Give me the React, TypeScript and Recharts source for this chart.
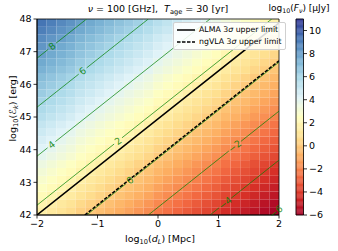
import React from 'react';
import { ComposedChart, XAxis, YAxis, Line, ReferenceArea, ReferenceDot, Legend } from 'recharts';

// axes
const distTicks = [-2, -1, 0, 1, 2];
const distMinorTicks = [-1.8, -1.6, -1.4, -1.2, -0.8, -0.6, -0.4, -0.2, 0.2, 0.4, 0.6, 0.8, 1.2, 1.4, 1.6, 1.8];
const energyTicks = [42, 43, 44, 45, 46, 47, 48];
const energyMinorTicks = [42.2, 42.4, 42.6, 42.8, 43.2, 43.4, 43.6, 43.8, 44.2, 44.4, 44.6, 44.8, 45.2, 45.4, 45.6, 45.8, 46.2, 46.4, 46.6, 46.8, 47.2, 47.4, 47.6, 47.8];
const cbarTicks = [-6, -4, -2, 0, 2, 4, 6, 8, 10];
const cbarMinorTicks = [-5.5, -5, -4.5, -3.5, -3, -2.5, -1.5, -1, -0.5, 0.5, 1, 1.5, 2.5, 3, 3.5, 4.5, 5, 5.5, 6.5, 7, 7.5, 8.5, 9, 9.5, 10.5];

// heatmap: log10 flux in the leftmost distance column, one value per energy row (bottom to top)
const fluxLeftColumn = [1.6, 1.9, 2.3, 2.6, 2.9, 3.2, 3.5, 3.9, 4.2, 4.5, 4.8, 5.1, 5.5, 5.8, 6.1, 6.4, 6.7, 7.0, 7.4, 7.7, 8.0, 8.3, 8.6, 9.0, 9.3];
// change of log10 flux for each distance column, relative to the leftmost one
const distanceDimming = [0, -0.3, -0.6, -0.9, -1.3, -1.6, -1.9, -2.2, -2.5, -2.8, -3.1, -3.4, -3.8, -4.1, -4.4, -4.7, -5.0, -5.3, -5.6, -6.0, -6.3, -6.6, -6.9, -7.2, -7.5];

// contours of log10 flux, straight segments [logd, logE]
const contourLevels = [8, 6, 4, 2, 0, -2, -4, -6];
const contourStart = [[-2, 46.8], [-2, 45.3], [-2, 43.8], [-2, 42.3], [-1.18, 42], [-0.16, 42], [0.86, 42], [1.88, 42]];
const contourEnd = [[-1.18, 48], [-0.16, 48], [0.86, 48], [1.88, 48], [2, 46.68], [2, 45.18], [2, 43.68], [2, 42.18]];
const contourLabelD = [-1.75, -1.245, -1.76, -0.66, -0.46, 1.27, 1.11, 1.95];

// detection limits
const almaD = [-2, 0, 2];
const almaE = [42, 44.94, 47.88];
const ngvlaD = [-1.21, 2];
const ngvlaE = [42, 46.72];

const legendEntries = [
    { name: 'ALMA', dash: undefined },
    { name: 'ngVLA', dash: '3.5 1.5' },
];

const RDYLBU = ['#a50026', '#d73027', '#f46d43', '#fdae61', '#fee090', '#ffffbf', '#e0f3f8', '#abd9e9', '#74add1', '#4575b4', '#313695'];
const V_MIN = -6;
const V_MAX = 11;

const hex = (h: string) => [1, 3, 5].map((i) => parseInt(h.slice(i, i + 2), 16));

function fluxColor(v: number) {
    const t = Math.min(1, Math.max(0, (v - V_MIN) / (V_MAX - V_MIN))) * (RDYLBU.length - 1);
    const i = Math.min(RDYLBU.length - 2, Math.floor(t));
    const f = t - i;
    const a = hex(RDYLBU[i]);
    const b = hex(RDYLBU[i + 1]);
    const c = a.map((x, k) => Math.round(x + (b[k] - x) * f));
    return `rgb(${c[0]},${c[1]},${c[2]})`;
}

const minus = (v: number) => (v < 0 ? '\u2212' + Math.abs(v) : String(v));

const cellW = 4 / distanceDimming.length;
const cellH = 6 / fluxLeftColumn.length;
const cells = fluxLeftColumn.flatMap((f0, row) =>
    distanceDimming.map((dim, col) => ({
        x1: -2 + col * cellW,
        x2: -2 + (col + 1) * cellW,
        y1: 42 + row * cellH,
        y2: 42 + (row + 1) * cellH,
        fill: fluxColor(f0 + dim),
    }))
);

// thin slices for the colour bar
const CBAR_STEPS = 170;
const cbarSlices = Array.from({ length: CBAR_STEPS }, (_, i) => {
    const lo = V_MIN + ((V_MAX - V_MIN) * i) / CBAR_STEPS;
    const hi = V_MIN + ((V_MAX - V_MIN) * (i + 1)) / CBAR_STEPS;
    return { lo, hi, fill: fluxColor((lo + hi) / 2) };
});
const cbarFrame = [{ u: 0, v: V_MIN }, { u: 1, v: V_MAX }];

const contours = contourLevels.map((level, k) => {
    const [d0, e0] = contourStart[k];
    const [d1, e1] = contourEnd[k];
    const at = (d: number) => e0 + ((e1 - e0) * (d - d0)) / (d1 - d0);
    const ld = contourLabelD[k];
    const gap = level < 0 ? 0.1 : 0.065;
    const pts: { d: number; E: number | null }[] = [{ d: d0, E: e0 }];
    if (ld - gap > d0) pts.push({ d: ld - gap, E: at(ld - gap) });
    pts.push({ d: ld, E: null });
    if (ld + gap < d1) pts.push({ d: ld + gap, E: at(ld + gap) });
    pts.push({ d: d1, E: e1 });
    return { level, pts, labelD: ld, labelE: at(ld) };
});

const almaPts = almaD.map((d, i) => ({ d, E: almaE[i] }));
const ngvlaPts = ngvlaD.map((d, i) => ({ d, E: ngvlaE[i] }));

const GREEN = '#008000';
const sub = { fontSize: '70%', position: 'relative' as const, top: '0.3em' };

const renderLegend = () => (
    <div style={{ background: 'rgba(255,255,255,0.85)', border: '1px solid #d0d0d0', borderRadius: 2, padding: '1px 4px 1px 3px', fontSize: 7.8, lineHeight: '12px', color: '#000' }}>
        {legendEntries.map((e) => (
            <div key={e.name} style={{ display: 'flex', alignItems: 'center', whiteSpace: 'nowrap' }}>
                <svg width={18} height={6} style={{ marginRight: 4 }}>
                    <line x1={0} y1={3} x2={18} y2={3} stroke="#000" strokeWidth={1.5} strokeDasharray={e.dash} />
                </svg>
                <span>{e.name} 3<i>σ</i> upper limit</span>
            </div>
        ))}
    </div>
);

export default function App() {
    return (
        <div style={{ position: 'absolute', left: 0, top: 0, width: 338, height: 251, background: '#fff', fontFamily: '"DejaVu Sans", sans-serif', color: '#000' }}>
            {/* colour bar */}
            <ComposedChart width={338} height={251} data={cbarFrame} margin={{ top: 19, right: 0, left: 296, bottom: 36 }} style={{ position: 'absolute', left: 0, top: 0 }}>
                <XAxis type="number" dataKey="u" domain={[0, 1]} allowDataOverflow hide />
                <YAxis yAxisId="minor" orientation="right" type="number" domain={[V_MIN, V_MAX]} allowDataOverflow ticks={cbarMinorTicks} interval={0} tick={false} tickSize={2} axisLine={false} tickLine={{ stroke: '#000', strokeWidth: 0.6 }} width={0} />
                <YAxis orientation="right" type="number" domain={[V_MIN, V_MAX]} allowDataOverflow ticks={cbarTicks} interval={0} tickFormatter={minus} tickSize={3.5} tickMargin={2} width={34.5} axisLine={false} tickLine={{ stroke: '#000', strokeWidth: 0.8 }} tick={{ fontSize: 9.5, fill: '#000', textAnchor: 'start' }} />
                {cbarSlices.map((s, i) => (
                    <ReferenceArea key={`cb-${i}`} x1={0} x2={1} y1={s.lo} y2={s.hi} fill={s.fill} fillOpacity={1} stroke={s.fill} strokeWidth={0.3} ifOverflow="visible" />
                ))}
                <ReferenceArea x1={0} x2={1} y1={V_MIN} y2={V_MAX} fill="none" fillOpacity={0} stroke="#000" strokeWidth={0.8} ifOverflow="visible" />
                <Line dataKey="v" stroke="none" dot={false} activeDot={false} legendType="none" isAnimationActive={false} />
            </ComposedChart>

            <ComposedChart width={338} height={251} margin={{ top: 19, right: 59, left: 0, bottom: 0 }} style={{ position: 'absolute', left: 0, top: 0 }}>
                <XAxis xAxisId="minor" type="number" dataKey="d" domain={[-2, 2]} allowDataOverflow ticks={distMinorTicks} interval={0} tick={false} tickSize={2} axisLine={false} tickLine={{ stroke: '#000', strokeWidth: 0.6 }} height={0} />
                <XAxis type="number" dataKey="d" domain={[-2, 2]} allowDataOverflow ticks={distTicks} interval={0} tickFormatter={minus} tickSize={3.5} tickMargin={2} height={36} axisLine={{ stroke: '#000', strokeWidth: 0.8 }} tickLine={{ stroke: '#000', strokeWidth: 0.8 }} tick={{ fontSize: 9.5, fill: '#000' }} />
                <YAxis yAxisId="minor" type="number" domain={[42, 48]} allowDataOverflow ticks={energyMinorTicks} interval={0} tick={false} tickSize={2} axisLine={false} tickLine={{ stroke: '#000', strokeWidth: 0.6 }} width={0} />
                <YAxis type="number" domain={[42, 48]} allowDataOverflow ticks={energyTicks} interval={0} tickSize={3.5} tickMargin={2} width={37} axisLine={{ stroke: '#000', strokeWidth: 0.8 }} tickLine={{ stroke: '#000', strokeWidth: 0.8 }} tick={{ fontSize: 9.5, fill: '#000' }} />

                {cells.map((c, i) => (
                    <ReferenceArea key={`cell-${i}`} x1={c.x1} x2={c.x2} y1={c.y1} y2={c.y2} fill={c.fill} fillOpacity={1} stroke="none" />
                ))}
                <ReferenceArea x1={-2} x2={2} y1={42} y2={48} fill="none" fillOpacity={0} stroke="#000" strokeWidth={0.8} ifOverflow="visible" />

                {contours.map((c) => (
                    <Line key={`ct-${c.level}`} data={c.pts} dataKey="E" type="linear" stroke={GREEN} strokeOpacity={0.7} strokeWidth={1} dot={false} activeDot={false} legendType="none" isAnimationActive={false} />
                ))}
                {contours.map((c) => (
                    <ReferenceDot
                        key={`cl-${c.level}`}
                        x={c.labelD}
                        y={c.labelE}
                        r={0}
                        ifOverflow="visible"
                        shape={(p: any) => (
                            <text x={p.cx} y={p.cy} dy="0.35em" textAnchor="middle" fontSize={9.5} fill={GREEN} fillOpacity={0.85} transform={`rotate(-38 ${p.cx} ${p.cy})`}>
                                {minus(c.level)}
                            </text>
                        )}
                    />
                ))}

                <Line data={almaPts} dataKey="E" name="ALMA" type="linear" stroke="#000" strokeWidth={1.5} dot={false} activeDot={false} isAnimationActive={false} />
                <Line data={ngvlaPts} dataKey="E" name="ngVLA" type="linear" stroke="#000" strokeWidth={1.5} strokeDasharray="3.5 1.5" dot={false} activeDot={false} isAnimationActive={false} />

                <Legend layout="horizontal" verticalAlign="middle" align="center" content={renderLegend} wrapperStyle={{ left: 173, top: 22, width: 'auto' }} />
            </ComposedChart>

            <div style={{ position: 'absolute', left: 37, width: 242, top: 3, textAlign: 'center', fontSize: 9.5, whiteSpace: 'pre' }}>
                <i>ν</i> = 100 [GHz],  <i>T</i><span style={sub}>age</span> = 30 [yr]
            </div>
            <div style={{ position: 'absolute', left: 259, width: 80, top: 3, textAlign: 'center', fontSize: 9, whiteSpace: 'pre' }}>
                log<span style={sub}>10</span>(<i>F</i><span style={sub}><i>ν</i></span>) [μJy]
            </div>
            <div style={{ position: 'absolute', left: 80, width: 160, top: 233, textAlign: 'center', fontSize: 9.5, whiteSpace: 'pre' }}>
                log<span style={sub}>10</span>(<i>d</i><span style={sub}><i>L</i></span>) [Mpc]
            </div>
            <div style={{ position: 'absolute', left: 12, top: 110, width: 160, marginLeft: -80, marginTop: -7, textAlign: 'center', fontSize: 9.5, whiteSpace: 'pre', transform: 'rotate(-90deg)' }}>
                log<span style={sub}>10</span>(ℰ<span style={sub}><i>k</i></span>) [erg]
            </div>
        </div>
    );
}
